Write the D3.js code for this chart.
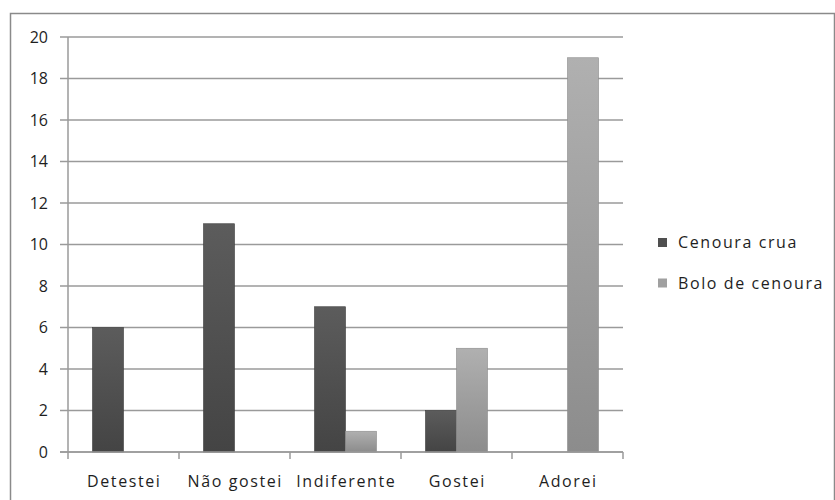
<!DOCTYPE html>
<html><head><meta charset="utf-8">
<script src="https://cdn.jsdelivr.net/npm/d3@7/dist/d3.min.js"></script>
<style>
html,body{margin:0;padding:0;background:#fff;}
svg{display:block;}
text{font-family:"Open Sans","DejaVu Sans",sans-serif;fill:#1e1e1e;}
</style></head>
<body>
<svg id="c" width="835" height="500"></svg>
<script>
const categories = ["Detestei","Não gostei","Indiferente","Gostei","Adorei"];
const seriesNames = ["Cenoura crua","Bolo de cenoura"];
const cenouraCrua = [6, 11, 7, 2, 0];
const boloCenoura = [0, 0, 1, 5, 19];
const yTicks = [0,2,4,6,8,10,12,14,16,18,20];

(function(){
const svg = d3.select("#c");
const defs = svg.append("defs");
const g1 = defs.append("linearGradient").attr("id","gDark").attr("x1",0).attr("y1",0).attr("x2",0).attr("y2",1);
g1.append("stop").attr("offset","0%").attr("stop-color","#5c5c5c");
g1.append("stop").attr("offset","100%").attr("stop-color","#444444");
const g2 = defs.append("linearGradient").attr("id","gLight").attr("x1",0).attr("y1",0).attr("x2",0).attr("y2",1);
g2.append("stop").attr("offset","0%").attr("stop-color","#b0b0b0");
g2.append("stop").attr("offset","100%").attr("stop-color","#8c8c8c");
const fills = ["url(#gDark)","url(#gLight)"];
const legendFills = ["#4f4f4f","#a0a0a0"];

// outer border
svg.append("rect").attr("x",10.5).attr("y",13.5).attr("width",824).attr("height",520)
  .attr("fill","none").attr("stroke","#8a8a8a").attr("stroke-width",1.5);

const mLeft = 68, mRight = 623, mTop = 37, mBottom = 452;
const x = d3.scaleBand().domain(categories).range([mLeft,mRight]).paddingInner(0).paddingOuter(0);
const x1 = d3.scaleBand().domain(seriesNames).range([0,x.bandwidth()]).paddingInner(0).paddingOuter(0.79);
const y = d3.scaleLinear().domain([0,20]).range([mBottom,mTop]);

// gridlines
svg.append("g").selectAll("line").data(yTicks).join("line")
  .attr("x1",mLeft-8).attr("x2",mRight).attr("y1",d=>y(d)).attr("y2",d=>y(d))
  .attr("stroke","#9a9a9a").attr("stroke-width",1.5);

// y labels
svg.append("g").selectAll("text").data(yTicks).join("text")
  .attr("x",48).attr("y",d=>y(d)).attr("dy","0.36em").attr("text-anchor","end")
  .attr("font-size",16).text(d=>d);

// y axis line
svg.append("line").attr("x1",mLeft).attr("x2",mLeft).attr("y1",mTop).attr("y2",mBottom)
  .attr("stroke","#9a9a9a").attr("stroke-width",1.5);

// bars
const data = [cenouraCrua, boloCenoura];
const groups = svg.append("g").selectAll("g").data(categories).join("g")
  .attr("transform",d=>`translate(${x(d)},0)`);
groups.selectAll("rect").data((c,i)=>seriesNames.map((s,k)=>({s,k,v:data[k][i]})).filter(d=>d.v>0))
  .join("rect")
  .attr("x",d=>x1(d.s)).attr("width",x1.bandwidth())
  .attr("y",d=>y(d.v)).attr("height",d=>y(0)-y(d.v))
  .attr("fill",d=>fills[d.k])
  .attr("stroke",d=>d.k===0?"#3c3c3c":"#8a8a8a").attr("stroke-width",0.6);

// x axis line & ticks
svg.append("line").attr("x1",mLeft-8).attr("x2",mRight).attr("y1",mBottom).attr("y2",mBottom)
  .attr("stroke","#9a9a9a").attr("stroke-width",1.5);
const xt = categories.map(c=>x(c)).concat([mRight]);
svg.append("g").selectAll("line").data(xt).join("line")
  .attr("x1",d=>d).attr("x2",d=>d).attr("y1",mBottom).attr("y2",mBottom+7)
  .attr("stroke","#9a9a9a").attr("stroke-width",1.5);
svg.append("g").selectAll("text").data(categories).join("text")
  .attr("x",d=>x(d)+x.bandwidth()/2+0.8).attr("y",487).attr("text-anchor","middle")
  .attr("font-size",16).attr("letter-spacing","1.6px").text(d=>d);

// legend
const lg = svg.append("g").selectAll("g").data(seriesNames).join("g")
  .attr("transform",(d,i)=>`translate(658,${242.5+i*40.5})`);
lg.append("rect").attr("x",0).attr("y",-4.5).attr("width",9).attr("height",9)
  .attr("fill",(d,i)=>legendFills[i]);
lg.append("text").attr("x",20).attr("y",0).attr("dy","0.36em").attr("font-size",16)
  .attr("letter-spacing","1.6px").text(d=>d);
})();
</script>
</body></html>
